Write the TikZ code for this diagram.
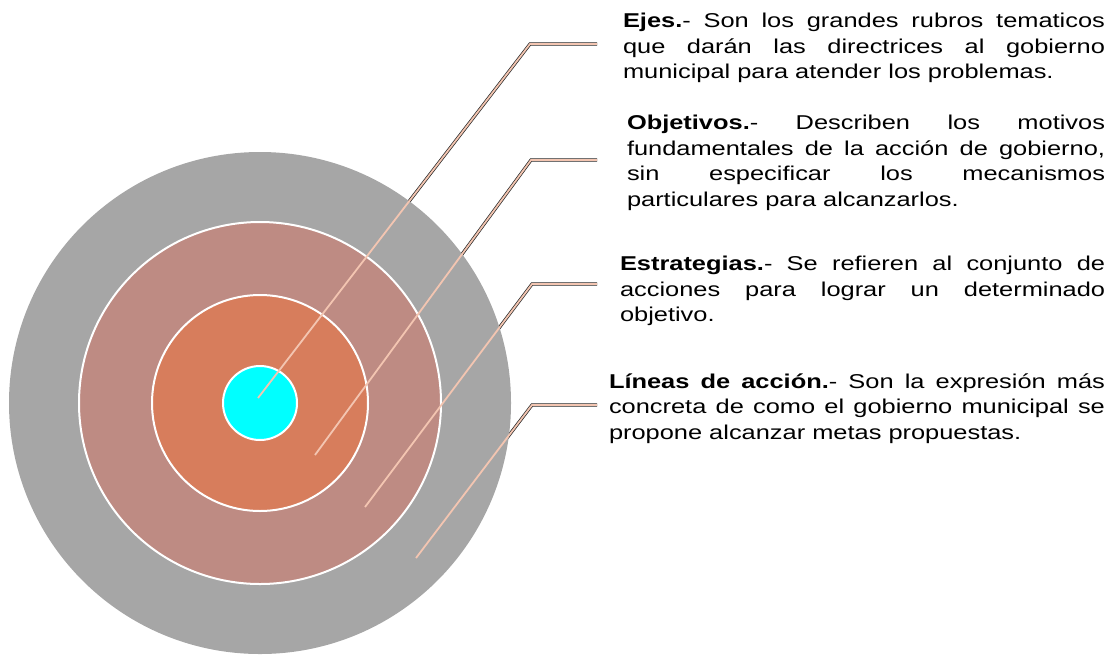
\documentclass[tikz,border=0pt]{standalone}
\usepackage{fontspec}
\setmainfont{Liberation Sans}
\usepackage{graphicx}
\definecolor{ringgray}{HTML}{A6A6A6}
\definecolor{ringrose}{HTML}{BE8B83}
\definecolor{ringorange}{HTML}{D77D5C}
\definecolor{ringcyan}{HTML}{00FFFF}
\definecolor{leadercol}{HTML}{F3C5B1}
\newcommand{\descbox}[2]{\scalebox{1.27}[1]{\parbox[t]{#1}{\fontsize{20}{25.5}\selectfont\hyphenpenalty=10000\exhyphenpenalty=10000\hbadness=10000 #2}}}
\tikzset{
  ring/.style={circle, inner sep=0pt, outer sep=0pt, draw=white, line width=2pt},
  desctext/.style={anchor=base west, inner sep=0pt, outer sep=0pt},
  leadershadow/.style={draw=black!85, line width=3.2pt, line join=miter},
  leaderline/.style={draw=leadercol, line width=1.8pt, line join=miter}
}
\begin{document}
\begin{tikzpicture}[x=1pt, y=-1pt]
\useasboundingbox (0,0) rectangle (1115,654);
% leader coordinates
\coordinate (p1) at (258,398); \coordinate (k1) at (530,44);  \coordinate (q1) at (597,44);
\coordinate (p2) at (315,455); \coordinate (k2) at (531,160); \coordinate (q2) at (597,160);
\coordinate (p3) at (365,507); \coordinate (k3) at (532,284); \coordinate (q3) at (597,284);
\coordinate (p4) at (416,558); \coordinate (k4) at (532,405); \coordinate (q4) at (597,405);
% shadows of the leaders (hidden inside the circles)
\foreach \i in {1,2,3,4} {\draw[leadershadow] (p\i) -- (k\i) -- (q\i);}
% concentric circles
\node[ring, draw=none, fill=ringgray, minimum size=502pt] (outer) at (260,403) {};
\node[ring, fill=ringrose, minimum size=362pt] (rose) at (260,403) {};
\node[ring, fill=ringorange, minimum size=216pt] (orange) at (260,403) {};
\node[ring, fill=ringcyan, minimum size=74pt] (core) at (260,403) {};
% leaders
\foreach \i in {1,2,3,4} {\draw[leaderline] (p\i) -- (k\i) -- (q\i);}
% texts
\node[desctext] (ejes) at (623,27.5) {\descbox{379.5pt}{\textbf{Ejes.}- Son los grandes rubros tematicos\linebreak que darán las directrices al gobierno\linebreak municipal para atender los problemas.}};
\node[desctext] (objetivos) at (627,129.5) {\descbox{376.4pt}{\textbf{Objetivos.}- Describen los motivos\linebreak fundamentales de la acción de gobierno,\linebreak sin especificar los mecanismos\linebreak particulares para alcanzarlos.}};
\node[desctext] (estrategias) at (620,270.5) {\descbox{382pt}{\textbf{Estrategias.}- Se refieren al conjunto de\linebreak acciones para lograr un determinado\linebreak objetivo.}};
\node[desctext] (lineas) at (609,388) {\descbox{390.5pt}{\textbf{Líneas de acción.}- Son la expresión más\linebreak concreta de como el gobierno municipal se\linebreak propone alcanzar metas propuestas.}};
\end{tikzpicture}
\end{document}
